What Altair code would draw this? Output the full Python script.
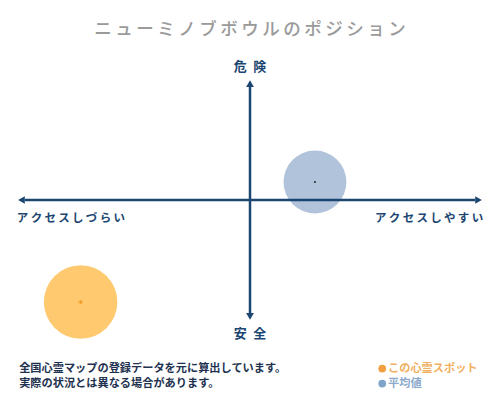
import altair as alt
import pandas as pd

# ---- data ----
title_text = "ニューミノブボウルのポジション"
top_label = "危険"
bottom_label = "安全"
left_label = "アクセスしづらい"
right_label = "アクセスしやすい"
notes = ["全国心霊マップの登録データを元に算出しています。", "実際の状況とは異なる場合があります。"]
legend_labels = ["この心霊スポット", "平均値"]

spot_access = [-7.3]
spot_danger = [-8.5]
avg_access = [2.8]
avg_danger = [1.5]

AXIS_MIN, AXIS_MAX = -10, 10

NAVY = "#1c4672"
FONT = "Noto Sans CJK JP"


def spaced(s, sep="\u2009"):
    return sep.join(list(s))


xs = alt.Scale(domain=[-10.431, 10.431], nice=False, zero=False)
ys = alt.Scale(domain=[-16, 16], nice=False, zero=False)
X = lambda f="x": alt.X(f"{f}:Q", scale=xs, axis=None)
Y = lambda f="y": alt.Y(f"{f}:Q", scale=ys, axis=None)

# axes lines
hline = pd.DataFrame({"x": [AXIS_MIN + 0.3], "x2": [AXIS_MAX - 0.3], "y": [0]})
vline = pd.DataFrame({"x": [0], "y": [AXIS_MIN + 0.5], "y2": [AXIS_MAX - 0.5]})
h = alt.Chart(hline).mark_rule(color=NAVY, strokeWidth=2.5).encode(
    x=X(), x2="x2:Q", y=Y())
v = alt.Chart(vline).mark_rule(color=NAVY, strokeWidth=2.5).encode(
    x=X(), y=Y(), y2="y2:Q")

heads = pd.DataFrame({
    "x": [AXIS_MIN + 0.15, AXIS_MAX - 0.15, 0, 0],
    "y": [0, 0, AXIS_MAX - 0.3, AXIS_MIN + 0.3],
    "shape": ["triangle-left", "triangle-right", "triangle-up", "triangle-down"],
})
arrow = alt.Chart(heads).mark_point(filled=True, color=NAVY, size=60, opacity=1).encode(
    x=X(), y=Y(), shape=alt.Shape("shape:N", scale=None, legend=None))

# bubbles
avg_df = pd.DataFrame({"x": avg_access, "y": avg_danger})
spot_df = pd.DataFrame({"x": spot_access, "y": spot_danger})
avg_c = alt.Chart(avg_df).mark_circle(color="#a7bdd6", opacity=0.9, size=3950).encode(x=X(), y=Y())
spot_c = alt.Chart(spot_df).mark_circle(color="#fec96f", opacity=1, size=5400).encode(x=X(), y=Y())
avg_dot = alt.Chart(avg_df).mark_circle(color="#222222", opacity=1, size=4).encode(x=X(), y=Y())
spot_dot = alt.Chart(spot_df).mark_point(shape="cross", filled=True, color="#f0a030", opacity=1, size=18).encode(x=X(), y=Y())

# texts
title_df = pd.DataFrame({"x": [0], "y": [14.2], "t": [spaced(title_text)]})
title = alt.Chart(title_df).mark_text(font=FONT, fontSize=17.5, fontWeight=500, color="#9a9a9a", baseline="middle").encode(
    x=X(), y=Y(), text="t:N")

tb_df = pd.DataFrame({"x": [0, 0], "y": [11.1, -11.2], "t": [spaced(top_label, "\u2002"), spaced(bottom_label, "\u2002")]})
tb = alt.Chart(tb_df).mark_text(font=FONT, fontSize=13, fontWeight="bold", color=NAVY, baseline="middle").encode(
    x=X(), y=Y(), text="t:N")

l_df = pd.DataFrame({"x": [AXIS_MIN - 0.05], "y": [-1.6], "t": [spaced(left_label)]})
l_t = alt.Chart(l_df).mark_text(font=FONT, fontSize=11.5, fontWeight="bold", color=NAVY, align="left", baseline="middle").encode(
    x=X(), y=Y(), text="t:N")
r_df = pd.DataFrame({"x": [AXIS_MAX + 0.05], "y": [-1.6], "t": [spaced(right_label)]})
r_t = alt.Chart(r_df).mark_text(font=FONT, fontSize=11.5, fontWeight="bold", color=NAVY, align="right", baseline="middle").encode(
    x=X(), y=Y(), text="t:N")

n_df = pd.DataFrame({"x": [AXIS_MIN + 0.05] * 2, "y": [-14.05, -15.3], "t": notes})
n_t = alt.Chart(n_df).mark_text(font=FONT, fontSize=11.2, fontWeight="bold", color="#1e3250", align="left", baseline="middle").encode(
    x=X(), y=Y(), text="t:N")

lg_df = pd.DataFrame({"x": [5.7, 5.7], "y": [-14.05, -15.3], "c": ["#f0a040", "#7fa5cb"]})
lg_dot = alt.Chart(lg_df).mark_circle(opacity=1, size=60).encode(
    x=X(), y=Y(), color=alt.Color("c:N", scale=None, legend=None))
lgt_df = pd.DataFrame({"x": [5.95, 5.95], "y": [-14.05, -15.3], "t": legend_labels, "c": ["#f0b060", "#8caacb"]})
lg_t = alt.Chart(lgt_df).mark_text(font=FONT, fontSize=11.2, fontWeight="bold", align="left", baseline="middle").encode(
    x=X(), y=Y(), text="t:N", color=alt.Color("c:N", scale=None, legend=None))

chart = alt.layer(
    spot_c, avg_c, h, v, arrow, avg_dot, spot_dot, title, tb, l_t, r_t, n_t, lg_dot, lg_t
).properties(
    width=484, height=384, padding=0,
    autosize=alt.AutoSizeParams(type="none"),
).configure_view(stroke=None)

chart.save("out.html", embed_options={"renderer": "svg", "actions": False})
